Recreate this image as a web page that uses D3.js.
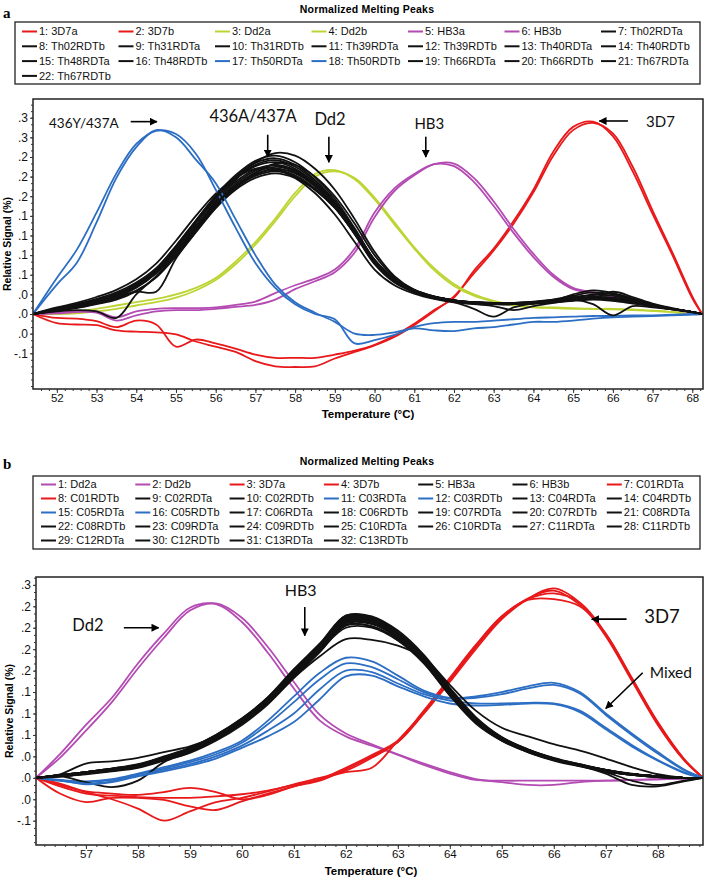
<!DOCTYPE html>
<html><head><meta charset="utf-8">
<script src="https://cdn.jsdelivr.net/npm/d3@7/dist/d3.min.js"></script>
<style>html,body{margin:0;padding:0;background:#fff;} svg{display:block;}</style>
</head><body>
<svg id="fig" width="709" height="877"></svg>
<script>
// ---------------- DATA : panel a ----------------
const tempA = [51.4,52,52.5,53,53.5,54,54.5,55,55.5,56,56.5,57,57.5,58,58.5,59,59.5,60,60.5,61,61.5,62,62.5,63,63.5,64,64.5,65,65.5,66,66.5,67,67.5,68,68.25];
const a01 = [0,-.006,-.007,-.011,-.02,-.01,-.016,-.05,-.039,-.045,-.053,-.062,-.067,-.067,-.067,-.062,-.056,-.047,-.033,-.015,.006,.025,.066,.1,.142,.19,.248,.286,.294,.272,.218,.153,.09,.024,0];
const a02 = [0,-.014,-.016,-.017,-.025,-.027,-.028,-.031,-.042,-.05,-.058,-.072,-.08,-.081,-.08,-.068,-.058,-.048,-.035,-.017,.004,.027,.062,.097,.138,.186,.242,.281,.292,.276,.225,.158,.094,.027,0];
const a03 = [0,.002,.004,.008,.013,.018,.023,.03,.04,.055,.08,.11,.146,.185,.214,.22,.206,.175,.137,.1,.067,.043,.028,.019,.013,.01,.009,.008,.008,.007,.006,.005,.003,.001,0];
const a04 = [0,0,.001,.004,.008,.013,.018,.025,.036,.052,.076,.106,.142,.18,.21,.218,.208,.178,.14,.102,.07,.046,.03,.02,.014,.011,.01,.009,.008,.008,.007,.005,.003,.001,0];
const a05 = [0,.002,.004,.004,-.005,.004,.008,.009,.009,.01,.014,.019,.032,.044,.054,.068,.1,.155,.192,.214,.229,.226,.202,.165,.124,.087,.057,.038,.032,.025,.019,.012,.007,.002,0];
const a06 = [0,.001,.003,.002,-.01,-.002,.004,.006,.006,.008,.011,.014,.022,.038,.05,.064,.094,.148,.188,.212,.229,.23,.208,.172,.13,.092,.06,.04,.033,.027,.02,.013,.008,.003,0];
const a07 = [0,.008,.014,.021,.03,.044,.064,.096,.134,.172,.205,.232,.246,.242,.222,.19,.145,.095,.058,.037,.026,.02,.017,.015,.016,.018,.022,.028,.033,.03,.022,.014,.008,.003,0];
const a08 = [0,.007,.013,.02,.03,.045,.068,.103,.142,.18,.21,.231,.238,.228,.205,.172,.128,.08,.05,.034,.025,.02,.018,.016,.016,.018,.021,.024,.026,.024,.019,.013,.008,.003,0];
const a09 = [0,.009,.015,.023,.033,.048,.07,.104,.142,.178,.207,.226,.232,.222,.2,.168,.126,.079,.05,.034,.025,.019,.015,.012,.006,.012,.017,.022,.026,.025,.02,.014,.008,.003,0];
const a10 = [0,.006,.011,.018,.027,.041,.063,.097,.135,.17,.199,.219,.228,.22,.2,.17,.128,.082,.052,.035,.026,.021,.018,.017,.017,.018,.02,.023,.025,.022,.018,.013,.008,.003,0];
const a11 = [0,.01,.017,.026,.037,.053,.077,.112,.15,.184,.208,.222,.222,.208,.185,.152,.11,.068,.044,.031,.023,.018,.016,.015,.015,.016,.018,.021,.023,.021,.017,.012,.007,.003,0];
const a12 = [0,.005,.009,.015,.022,.035,.056,.09,.128,.164,.193,.213,.222,.215,.196,.167,.127,.083,.054,.037,.027,.021,.018,.016,.016,.017,.019,.022,.024,.022,.018,.013,.008,.003,0];
const a13 = [0,.004,.006,.004,-.006,.03,.058,.092,.13,.165,.193,.211,.218,.21,.19,.162,.122,.078,.05,.034,.025,.02,.017,.016,.016,.017,.02,.03,.036,.032,.022,.014,.008,.003,0];
const a14 = [0,.006,.011,.018,.026,.034,.034,.085,.125,.162,.19,.208,.215,.208,.19,.163,.124,.08,.051,.035,.026,.021,.018,.017,.017,.018,.02,.023,.025,.023,.018,.013,.008,.003,0];
const a15 = [0,.006,.01,.016,.024,.036,.056,.088,.125,.162,.193,.216,.23,.228,.21,.18,.138,.09,.056,.037,.027,.021,.017,.015,.015,.017,.02,.024,.03,.031,.024,.015,.008,.003,0];
const a16 = [0,.008,.013,.02,.03,.045,.067,.101,.139,.174,.202,.221,.227,.217,.195,.164,.122,.076,.048,.033,.024,.019,.016,.015,.015,.016,.018,.02,.022,.02,.016,.012,.007,.003,0];
const a17 = [0,.055,.098,.155,.215,.26,.28,.275,.245,.19,.132,.078,.04,.015,0,-.008,-.045,-.04,-.032,-.02,-.014,-.012,-.012,-.01,-.008,-.006,-.005,-.004,-.003,-.003,-.002,-.002,-.001,0,0];
const a18 = [0,.045,.078,.14,.208,.255,.281,.27,.236,.2,.145,.09,.045,.018,.002,-.012,-.03,-.032,-.028,-.022,-.025,-.026,-.022,-.02,-.016,-.012,-.012,-.01,-.007,-.005,-.004,-.003,-.002,-.001,0];
const a19 = [0,.007,.012,.019,.029,.043,.065,.1,.139,.177,.207,.228,.235,.225,.203,.171,.128,.081,.051,.035,.026,.021,.018,.016,.016,.017,.019,.022,.024,.034,.026,.016,.009,.003,0];
const a20 = [0,.007,.012,.019,.028,.042,.063,.096,.133,.168,.196,.214,.22,.212,.192,.163,.123,.078,.05,.034,.025,.018,.008,-.004,.01,.016,.019,.022,.024,.022,.018,.013,.008,.003,0];
const a21 = [0,.008,.013,.021,.031,.046,.069,.104,.143,.181,.212,.234,.242,.232,.209,.176,.131,.083,.052,.035,.026,.021,.018,.017,.017,.019,.022,.026,.029,.028,.02,.013,.008,.003,0];
const a22 = [0,.006,.011,.017,.026,.04,.062,.095,.132,.167,.196,.216,.225,.218,.198,.168,.127,.081,.051,.035,.026,.021,.018,.017,.017,.018,.02,.022,.015,-.002,.012,.01,.007,.003,0];
const seriesA = [a01,a02,a03,a04,a05,a06,a07,a08,a09,a10,a11,a12,a13,a14,a15,a16,a17,a18,a19,a20,a21,a22];
const legendA = ["1: 3D7a","2: 3D7b","3: Dd2a","4: Dd2b","5: HB3a","6: HB3b","7: Th02RDTa","8: Th02RDTb","9: Th31RDTa","10: Th31RDTb","11: Th39RDTa","12: Th39RDTb","13: Th40RDTa","14: Th40RDTb","15: Th48RDTa","16: Th48RDTb","17: Th50RDTa","18: Th50RDTb","19: Th66RDTa","20: Th66RDTb","21: Th67RDTa","22: Th67RDTb"];
const colorKeyA = ["red","red","lime","lime","magenta","magenta","black","black","black","black","black","black","black","black","black","black","blue","blue","black","black","black","black"];
const xTicksA = [52,53,54,55,56,57,58,59,60,61,62,63,64,65,66,67,68];
const yTicksA = [0.30,0.27,0.24,0.21,0.18,0.15,0.12,0.09,0.06,0.03,0.00,-0.03,-0.06];
const yLabelsA = [".3",".3",".2",".2",".2",".1",".1",".1",".1",".0",".0",".0","-.1"];
const annoTextA = ["436Y/437A","436A/437A","Dd2","HB3","3D7"];

// ---------------- DATA : panel b ----------------
const tempB = [56.04,56.5,57,57.5,58,58.5,59,59.5,60,60.5,61,61.5,62,62.5,63,63.5,64,64.5,65,65.5,66,66.5,67,67.5,68,68.5,68.87];
const b01 = [0,.033,.074,.112,.16,.202,.238,.243,.218,.175,.125,.08,.058,.045,.032,.018,.006,-.003,-.004,-.004,-.004,-.004,-.004,-.003,-.002,-.001,0];
const b02 = [0,.028,.066,.106,.153,.196,.234,.244,.224,.183,.134,.088,.062,.047,.033,.02,.008,-.002,-.006,-.01,-.01,-.006,-.004,-.003,-.002,-.001,0];
const b03 = [0,-.008,-.02,-.03,-.043,-.06,-.047,-.034,-.028,-.019,-.009,0,.01,.028,.05,.09,.136,.183,.224,.251,.262,.242,.2,.137,.076,.026,0];
const b04 = [0,-.022,-.034,-.028,-.028,-.031,-.04,-.045,-.033,-.022,-.012,-.002,.008,.014,.052,.092,.138,.185,.226,.25,.258,.245,.202,.14,.078,.027,0];
const b05 = [0,.003,.007,.011,.016,.027,.039,.056,.079,.108,.146,.182,.22,.218,.198,.165,.12,.08,.054,.038,.026,.018,.01,.005,.002,0,0];
const b06 = [0,.002,.006,.01,.015,.025,.037,.054,.076,.105,.142,.179,.216,.215,.196,.163,.118,.078,.053,.037,.025,.017,.01,.005,.002,0,0];
const b07 = [0,-.01,-.019,-.022,-.024,-.02,-.014,-.02,-.03,-.024,-.012,-.004,.012,.03,.05,.09,.134,.18,.222,.25,.265,.245,.198,.136,.074,.025,0];
const b08 = [0,-.012,-.022,-.025,-.027,-.028,-.028,-.026,-.023,-.018,-.01,-.002,.014,.032,.052,.094,.14,.186,.226,.249,.25,.24,.201,.139,.077,.026,0];
const b09 = [0,.004,.008,.013,.018,.029,.041,.058,.081,.11,.148,.184,.222,.22,.2,.167,.121,.081,.055,.039,.026,.018,.01,.005,.002,0,0];
const b10 = [0,.003,.007,.011,.017,.028,.04,.057,.08,.109,.147,.183,.224,.222,.201,.168,.122,.082,.056,.039,.027,.018,.011,.005,.002,0,0];
const b11 = [0,-.003,-.005,-.002,.006,.015,.024,.036,.052,.08,.114,.147,.168,.163,.143,.122,.112,.114,.12,.128,.133,.12,.09,.062,.036,.012,0];
const b12 = [0,-.004,-.006,-.003,.005,.013,.022,.033,.049,.075,.106,.138,.16,.155,.138,.12,.111,.112,.117,.125,.13,.118,.088,.06,.034,.011,0];
const b13 = [0,.005,.02,.023,.028,.036,.044,.058,.08,.108,.144,.18,.214,.212,.194,.162,.117,.078,.053,.037,.025,.017,.01,.005,.002,0,0];
const b14 = [0,.002,-.006,-.013,-.004,.022,.036,.054,.077,.106,.144,.181,.219,.217,.197,.164,.119,.079,.054,.038,.026,.018,.01,.005,.002,0,0];
const b15 = [0,-.004,-.008,-.005,.003,.011,.019,.03,.045,.066,.09,.124,.15,.148,.132,.117,.108,.104,.104,.105,.104,.094,.07,.046,.025,.008,0];
const b16 = [0,-.003,-.009,-.006,.002,.009,.017,.027,.042,.058,.078,.11,.142,.143,.128,.114,.104,.101,.102,.104,.103,.092,.068,.044,.024,.007,0];
const b17 = [0,.003,.007,.012,.017,.028,.04,.058,.082,.112,.151,.187,.226,.224,.203,.17,.124,.083,.056,.039,.027,.018,.011,.005,.002,0,0];
const b18 = [0,.004,.008,.012,.018,.029,.042,.06,.083,.113,.152,.188,.227,.226,.206,.172,.126,.085,.057,.04,.028,.019,.011,.006,.002,0,0];
const b19 = [0,.002,.005,.009,.014,.024,.035,.052,.074,.103,.14,.176,.213,.212,.193,.161,.116,.077,.052,.036,.025,.017,.009,.004,.001,0,0];
const b20 = [0,.003,.006,.01,.015,.026,.038,.055,.077,.106,.143,.178,.21,.21,.192,.16,.115,.076,.052,.036,.024,.016,.009,.004,.001,0,0];
const b21 = [0,.003,.007,.011,.017,.028,.04,.057,.079,.106,.14,.17,.194,.193,.185,.168,.13,.094,.07,.058,.047,.038,.027,.015,.005,0,0];
const b22 = [0,.003,.007,.011,.016,.027,.039,.056,.079,.108,.146,.182,.22,.219,.199,.166,.12,.08,.054,.038,.026,.017,.008,-.004,-.01,-.004,0];
const b23 = [0,.004,.008,.013,.018,.029,.041,.059,.082,.111,.149,.185,.223,.221,.201,.168,.122,.082,.055,.039,.027,.018,.01,.005,.002,0,0];
const b24 = [0,.003,.007,.011,.016,.027,.039,.057,.08,.109,.147,.183,.221,.22,.2,.167,.121,.081,.055,.038,.026,.018,.01,.005,.002,0,0];
const b25 = [0,.002,.006,.01,.015,.026,.038,.055,.078,.107,.145,.181,.218,.217,.197,.164,.119,.079,.054,.037,.025,.017,.009,.004,.001,0,0];
const b26 = [0,.003,.007,.012,.017,.028,.04,.058,.081,.11,.148,.184,.225,.223,.202,.169,.123,.082,.056,.039,.027,.018,.01,.005,.002,0,0];
const b27 = [0,.003,.008,.012,.017,.028,.04,.057,.08,.109,.146,.182,.219,.218,.198,.166,.12,.08,.054,.038,.026,.017,.006,-.01,-.012,-.005,0];
const b28 = [0,.004,.008,.013,.019,.03,.042,.06,.083,.112,.15,.186,.224,.222,.202,.169,.123,.083,.056,.039,.027,.018,.011,.005,.002,0,0];
const b29 = [0,.002,.006,.01,.015,.025,.037,.054,.077,.106,.144,.18,.217,.216,.196,.164,.119,.079,.053,.037,.025,.017,.009,.004,.001,0,0];
const b30 = [0,.003,.007,.011,.016,.027,.039,.056,.079,.108,.146,.182,.221,.219,.199,.166,.121,.081,.055,.038,.026,.018,.01,.005,.002,0,0];
const b31 = [0,.004,.008,.012,.017,.028,.04,.058,.081,.111,.149,.185,.227,.225,.204,.17,.124,.083,.056,.04,.027,.019,.011,.005,.002,0,0];
const b32 = [0,.003,.007,.011,.016,.027,.039,.057,.08,.109,.147,.183,.218,.217,.198,.165,.12,.08,.054,.038,.026,.017,.01,.005,.002,0,0];
const seriesB = [b01,b02,b03,b04,b05,b06,b07,b08,b09,b10,b11,b12,b13,b14,b15,b16,b17,b18,b19,b20,b21,b22,b23,b24,b25,b26,b27,b28,b29,b30,b31,b32];
const legendB = ["1: Dd2a","2: Dd2b","3: 3D7a","4: 3D7b","5: HB3a","6: HB3b","7: C01RDTa","8: C01RDTb","9: C02RDTa","10: C02RDTb","11: C03RDTa","12: C03RDTb","13: C04RDTa","14: C04RDTb","15: C05RDTa","16: C05RDTb","17: C06RDTa","18: C06RDTb","19: C07RDTa","20: C07RDTb","21: C08RDTa","22: C08RDTb","23: C09RDTa","24: C09RDTb","25: C10RDTa","26: C10RDTa","27: C11RDTa","28: C11RDTb","29: C12RDTa","30: C12RDTb","31: C13RDTa","32: C13RDTb"];
const colorKeyB = ["magenta","magenta","red","red","black","black","red","red","black","black","blue","blue","black","black","blue","blue","black","black","black","black","black","black","black","black","black","black","black","black","black","black","black","black"];
const xTicksB = [57,58,59,60,61,62,63,64,65,66,67,68];
const yTicksB = [0.27,0.24,0.21,0.18,0.15,0.12,0.09,0.06,0.03,0.00,-0.03,-0.06];
const yLabelsB = [".3",".2",".2",".2",".2",".1",".1",".1",".0",".0",".0","-.1"];
const annoTextB = ["Dd2","HB3","3D7","Mixed"];

// ---------------- STYLE / LAYOUT ----------------
const COLORS = {red:"#e8191b", lime:"#bdd432", magenta:"#b34bb3", black:"#111111", blue:"#2c6ec3"};
const SANS = "'Liberation Sans', Arial, Helvetica, sans-serif";
const ANNO = "Lato, 'Open Sans', 'Noto Sans', sans-serif";
const svg = d3.select("#fig");
const defs = svg.append("defs");
defs.append("marker").attr("id","ah").attr("viewBox","0 0 10 10").attr("refX",9).attr("refY",5)
  .attr("markerWidth",5).attr("markerHeight",5).attr("orient","auto").attr("markerUnits","strokeWidth")
  .append("path").attr("d","M0,0L10,5L0,10z").attr("fill","#000");

function panel(p) {
  const x = d3.scaleLinear().domain(p.xDomain).range([p.left, p.right]);
  const y = d3.scaleLinear().domain(p.yDomain).range([p.bottom, p.top]);

  svg.append("text").attr("x",3).attr("y",p.letterY).text(p.letter)
    .attr("font-family","'Liberation Serif', 'Times New Roman', serif").attr("font-weight","bold").attr("font-size",15);
  svg.append("text").attr("x",p.titleX).attr("y",p.titleY).attr("text-anchor","middle")
    .attr("font-family",SANS).attr("font-weight","bold").attr("font-size",10.5).attr("letter-spacing",0.2)
    .text("Normalized Melting Peaks");

  const L = p.legend;
  svg.append("rect").attr("x",L.x0).attr("y",L.y0).attr("width",L.x1-L.x0).attr("height",L.y1-L.y0)
    .attr("fill","#fff").attr("stroke","#222").attr("stroke-width",1.3);
  p.labels.forEach((lab,i)=>{
    const c = i % 7, r = Math.floor(i/7);
    const lx = L.cx + c*L.dx, ly = L.ry + r*L.dy;
    svg.append("line").attr("x1",lx).attr("x2",lx+15).attr("y1",ly).attr("y2",ly)
      .attr("stroke",COLORS[p.colorKeys[i]]).attr("stroke-width",2);
    svg.append("text").attr("x",lx+17).attr("y",ly).attr("dy","0.36em").text(lab)
      .attr("font-family",SANS).attr("font-size",11).attr("fill","#111");
  });

  const cid = "clip"+p.letter;
  defs.append("clipPath").attr("id",cid).append("rect")
    .attr("x",p.left).attr("y",p.top).attr("width",p.right-p.left).attr("height",p.bottom-p.top);

  const g = svg.append("g").attr("clip-path",`url(#${cid})`);
  const line = d3.line().x((d,i)=>x(p.temps[i])).y(d=>y(d)).curve(d3.curveCatmullRom.alpha(0.5));
  p.series.forEach((vals,i)=>{
    g.append("path").datum(vals).attr("d",line).attr("fill","none")
      .attr("stroke",COLORS[p.colorKeys[i]]).attr("stroke-width",1.8).attr("stroke-linejoin","round");
  });

  svg.append("rect").attr("x",p.left).attr("y",p.top).attr("width",p.right-p.left).attr("height",p.bottom-p.top)
    .attr("fill","none").attr("stroke","#222").attr("stroke-width",1.5);

  const ax = svg.append("g").attr("transform",`translate(0,${p.bottom})`)
    .call(d3.axisBottom(x).tickValues(p.xTicks).tickFormat(d=>d).tickSize(4).tickPadding(1));
  svg.append("g").attr("transform",`translate(0,${p.bottom})`)
    .call(d3.axisBottom(x).tickValues(d3.range(p.xMinor[0],p.xMinor[1]+1e-6,0.2)).tickFormat("").tickSize(2));
  const ay = svg.append("g").attr("transform",`translate(${p.left},0)`)
    .call(d3.axisLeft(y).tickValues(p.yTicks).tickFormat((d,i)=>p.yLabels[i]).tickSize(3).tickPadding(2));
  svg.append("g").attr("transform",`translate(${p.left},0)`)
    .call(d3.axisLeft(y).tickValues(d3.range(p.yMinor[0],p.yMinor[1]+1e-6,0.01)).tickFormat("").tickSize(2));
  svg.selectAll(".domain").remove();
  ax.selectAll("text").attr("font-family",SANS).attr("font-size",11.5).attr("fill","#111");
  ay.selectAll("text").attr("font-family",SANS).attr("font-size",12).attr("fill","#111");
  svg.selectAll(".tick line").attr("stroke","#333");

  svg.append("text").attr("transform",`translate(${p.yTitleX},${(p.top+p.bottom)/2}) rotate(-90)`)
    .attr("text-anchor","middle").attr("font-family",SANS).attr("font-weight","bold").attr("font-size",10.5)
    .text("Relative Signal (%)");
  svg.append("text").attr("x",p.xTitleX).attr("y",p.xTitleY).attr("text-anchor","middle")
    .attr("font-family",SANS).attr("font-weight","bold").attr("font-size",11.5).text("Temperature (°C)");

  p.annos.forEach(a=>{
    svg.append("text").attr("x",x(a.t)).attr("y",y(a.v)).attr("dy","0.35em").attr("text-anchor","middle")
      .attr("font-family",ANNO).attr("font-size",a.size).attr("fill","#111").text(a.text);
    if (a.arrow) {
      svg.append("line").attr("x1",x(a.arrow[0])).attr("y1",y(a.arrow[1]))
        .attr("x2",x(a.arrow[2])).attr("y2",y(a.arrow[3]))
        .attr("stroke","#000").attr("stroke-width",1.6).attr("marker-end","url(#ah)");
    }
  });
}

panel({
  letter:"a", letterY:18, titleX:367, titleY:13,
  legend:{x0:15, x1:700, y0:22, y1:84, cx:22, dx:96.5, ry:31.5, dy:14.8},
  labels:legendA, colorKeys:colorKeyA, series:seriesA, temps:tempA,
  xDomain:[51.4,68.27], yDomain:[-0.1146,0.3286], left:33, right:703, top:99, bottom:389,
  xTicks:xTicksA, xMinor:[51.6,68.2], yTicks:yTicksA, yLabels:yLabelsA, yMinor:[-0.11,0.32],
  yTitleX:11, xTitleX:368, xTitleY:418,
  annos:[
    {text:annoTextA[0], t:52.68, v:0.292, size:13.5, arrow:[53.86,0.294,54.52,0.294]},
    {text:annoTextA[1], t:56.94, v:0.302, size:16.5, arrow:[57.31,0.274,57.31,0.240]},
    {text:annoTextA[2], t:58.88, v:0.298, size:16.5, arrow:[58.85,0.271,58.85,0.232]},
    {text:annoTextA[3], t:61.38, v:0.291, size:15, arrow:[61.29,0.271,61.29,0.240]},
    {text:annoTextA[4], t:67.2, v:0.294, size:15, arrow:[66.38,0.295,65.66,0.295]}
  ]
});

panel({
  letter:"b", letterY:469, titleX:367, titleY:465,
  legend:{x0:33, x1:700, y0:476, y1:549, cx:41, dx:94.3, ry:484.5, dy:14},
  labels:legendB, colorKeys:colorKeyB, series:seriesB, temps:tempB,
  xDomain:[56.04,68.87], yDomain:[-0.094,0.281], left:36, right:703, top:577, bottom:845,
  xTicks:xTicksB, xMinor:[56.2,68.8], yTicks:yTicksB, yLabels:yLabelsB, yMinor:[-0.09,0.28],
  yTitleX:13, xTitleX:371, xTitleY:875,
  annos:[
    {text:annoTextB[0], t:57.04, v:0.214, size:16.5, arrow:[57.73,0.21,58.4,0.21]},
    {text:annoTextB[1], t:61.13, v:0.262, size:16, arrow:[61.21,0.239,61.21,0.199]},
    {text:annoTextB[2], t:68.08, v:0.225, size:18.5, arrow:[67.4,0.222,66.73,0.222]},
    {text:annoTextB[3], t:68.25, v:0.147, size:15.5, arrow:[67.71,0.147,67.0,0.097]}
  ]
});
</script>
</body></html>
